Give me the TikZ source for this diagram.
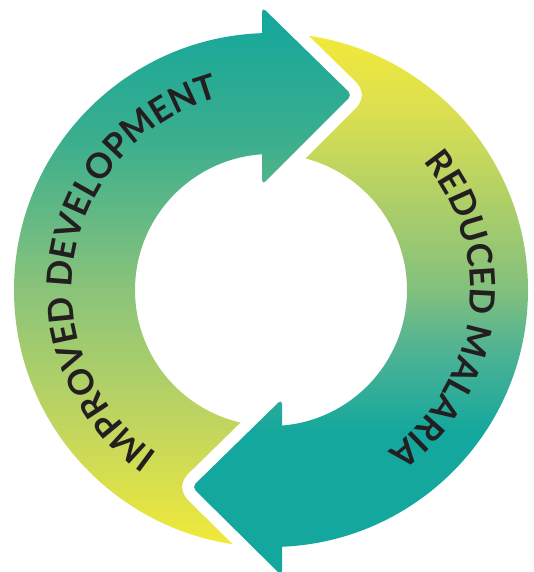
\documentclass[tikz,border=0pt]{standalone}
\usepackage{fontspec}
\newfontfamily\arcfont{Lato}
\usetikzlibrary{decorations.text}
\definecolor{tealc}{RGB}{19,167,157}
\definecolor{yelc}{RGB}{242,234,56}
\definecolor{lgA}{RGB}{194,214,94}
\definecolor{lgB}{RGB}{138,195,122}
\definecolor{lgC}{RGB}{58,174,142}
\definecolor{rgA}{RGB}{220,223,80}
\definecolor{rgB}{RGB}{130,192,126}
\definecolor{rgC}{RGB}{79,179,148}
\definecolor{txtc}{RGB}{35,31,32}
\pgfdeclareverticalshading{leftgrad}{100bp}{color(0bp)=(yelc); color(25bp)=(yelc); color(36bp)=(lgA); color(49bp)=(lgB); color(63bp)=(lgC); color(75bp)=(tealc); color(100bp)=(tealc)}
\pgfdeclareverticalshading{rightgrad}{100bp}{color(0bp)=(tealc); color(25bp)=(tealc); color(38bp)=(tealc); color(45.7bp)=(rgC); color(51.2bp)=(rgB); color(67.9bp)=(rgA); color(75bp)=(yelc); color(100bp)=(yelc)}
\newcommand\arcstyle{\arcfont\bfseries\fontsize{34.7}{35}\selectfont\color{txtc}}
\begin{document}
\begin{tikzpicture}[x=1pt,y=1pt,
  gapline/.style={white, line width=24pt, line join=round, line cap=round, rounded corners=5pt},
  arctext/.style={decorate, decoration={text along path, text align=center, text={|\arcstyle|#1}}}]
\useasboundingbox (-271,-282) rectangle (262,290);
\def\ri{136}
\def\ro{257}
% head coordinates
\coordinate (TB1) at (-9,283);
\coordinate (TT) at (81,195);
\coordinate (TB2) at (-9,105);
\coordinate (BB1) at (11,-286);
\coordinate (BT) at (-79,-197);
\coordinate (BB2) at (11,-109);
% left shaft
\begin{scope}
\clip (90:\ro) arc[start angle=90,end angle=270,radius=\ro] -- (270:\ri) arc[start angle=270,end angle=90,radius=\ri] -- cycle;
\shade[shading=leftgrad] (-275,-257) rectangle (265,282);
\end{scope}
% right shaft
\begin{scope}
\clip (90:\ro) arc[start angle=90,end angle=-90,radius=\ro] -- (-90:\ri) arc[start angle=-90,end angle=90,radius=\ri] -- cycle;
\shade[shading=rightgrad] (-275,-284) rectangle (265,257);
\end{scope}
% white gaps
\draw[gapline] (TB1) -- (TT) -- (TB2);
\draw[gapline] (BB1) -- (BT) -- (BB2);
% heads
\begin{scope}
\clip[rounded corners=5pt] (TB1) -- (TT) -- (TB2) -- cycle;
\shade[shading=leftgrad] (-275,-257) rectangle (265,282);
\end{scope}
\begin{scope}
\clip[rounded corners=5pt] (BB1) -- (BT) -- (BB2) -- cycle;
\shade[shading=rightgrad] (-275,-284) rectangle (265,257);
\end{scope}
% texts
\path[arctext={IMPROVED DEVELOPMENT}] (240:199) arc[start angle=240,end angle=100,radius=199];
\path[arctext={REDUCED MALARIA}] (63:199) arc[start angle=63,end angle=-77,radius=199];
\end{tikzpicture}
\end{document}
